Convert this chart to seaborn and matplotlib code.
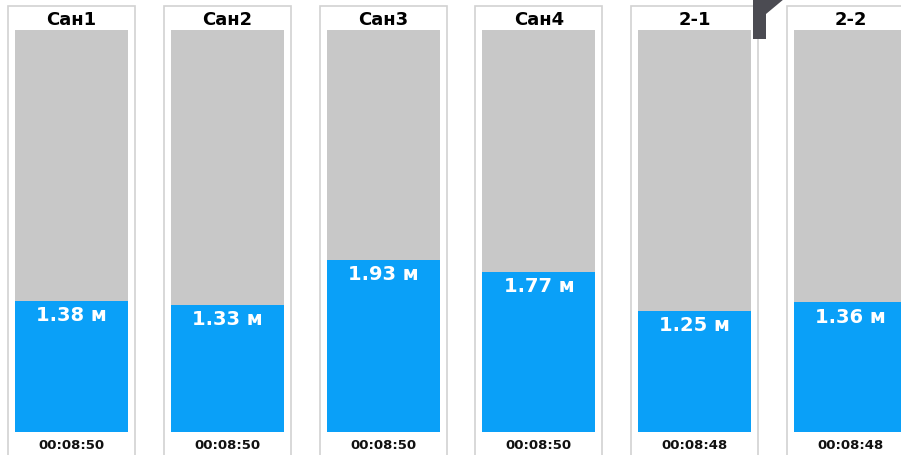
import seaborn as sns
import matplotlib.pyplot as plt
from matplotlib.patches import Rectangle, Polygon

# tank data
names = ['Сан1', 'Сан2', 'Сан3', 'Сан4', '2-1', '2-2']
levels = [1.38, 1.33, 1.93, 1.77, 1.25, 1.36]
times = ['00:08:50', '00:08:50', '00:08:50', '00:08:50', '00:08:48', '00:08:48']

y_min, y_max = -0.37, 5.0
blue = '#0aa0f8'
gray = '#c8c8c8'

sns.set_style('white')
plt.rcParams['font.family'] = ['DejaVu Sans']

W, H = 901, 456
fig = plt.figure(figsize=(W / 100, H / 100), dpi=100)
fig.patch.set_facecolor('white')


def px(x, y):
    return x / W, 1 - y / H


step = 155.8
for i, (name, lvl, t) in enumerate(zip(names, levels, times)):
    x0 = 8 + step * i
    # panel frame
    fig.patches.append(Rectangle(px(x0, 480), 127 / W, 473 / H, transform=fig.transFigure,
                                 fill=False, edgecolor='#d2d2d2', linewidth=1.2))
    # tank
    ax = fig.add_axes([(x0 + 7) / W, 1 - 433 / H, 113 / W, 402 / H])
    ax.set_facecolor(gray)
    sns.barplot(x=[name], y=[lvl], color=blue, width=1, saturation=1,
                edgecolor='none', linewidth=0, ax=ax)
    ax.axhspan(y_min, 0, color=blue, linewidth=0)
    ax.set_xlim(-0.5, 0.5)
    ax.set_ylim(y_min, y_max)
    ax.set_xticks([])
    ax.set_yticks([])
    ax.set(xlabel='', ylabel='')
    for s in ax.spines.values():
        s.set_visible(False)
    ax.text(0, lvl - 0.06, f'{lvl:.2f} м', ha='center', va='top', color='white',
            fontsize=14, fontweight='bold')

    cx = x0 + 63.5
    fig.text(*px(cx, 20), name, ha='center', va='center', fontsize=13,
             fontweight='bold', color='#000000')
    fig.text(*px(cx, 446), t, ha='center', va='center', fontsize=9.5,
             fontweight='bold', color='#111111')

# dark corner overlay at the top
pts = [px(753, 0), px(784, 0), px(766, 15), px(766, 40), px(753, 40)]
fig.patches.append(Polygon(pts, closed=True, transform=fig.transFigure,
                           facecolor='#4b4b52', edgecolor='none', zorder=10))

fig.savefig('out.png', dpi=100)
